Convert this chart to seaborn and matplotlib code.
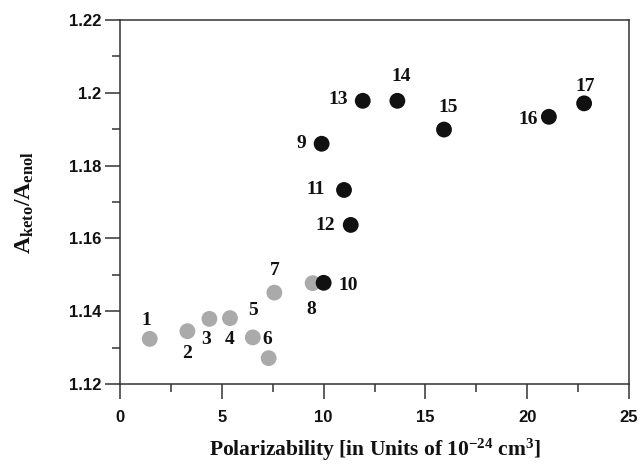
import pandas as pd
import numpy as np
import matplotlib.pyplot as plt
import seaborn as sns
from matplotlib.ticker import MultipleLocator

# Values
labels = [str(i) for i in range(1, 18)]
polarizability = [1.46, 3.31, 4.39, 5.40, 6.52, 7.30, 7.58, 9.46,
                  9.90, 10.0, 11.0, 11.33, 11.92, 13.62, 15.91, 21.06, 22.79]
ratio = [1.1324, 1.1345, 1.1379, 1.1381, 1.1328, 1.1271, 1.1451, 1.1477,
         1.1860, 1.1478, 1.1733, 1.1637, 1.1978, 1.1978, 1.1899, 1.1934, 1.1971]
group = ["low"] * 8 + ["high"] * 9

x_ticks = [0, 5, 10, 15, 20, 25]
x_ticklabels = ["0", "5", "10", "15", "20", "25"]
y_ticks = [1.12, 1.14, 1.16, 1.18, 1.20, 1.22]
y_ticklabels = ["1.12", "1.14", "1.16", "1.18", "1.2", "1.22"]

# label offsets in pixels (dx, dy), upward positive
label_offsets = {
    "1": (-3, 18), "2": (0, -22), "3": (-3, -21), "4": (0, -21), "5": (0, 27),
    "6": (-1, 19), "7": (0, 22), "8": (-1, -26), "9": (-20, 0), "10": (25, -3),
    "11": (-28, 0), "12": (-25, -1), "13": (-25, 1), "14": (4, 24), "15": (4, 22),
    "16": (-21, -3), "17": (1, 17),
}

df = pd.DataFrame({"label": labels, "x": polarizability, "y": ratio, "group": group})

sns.set_style("ticks")
plt.rcParams["mathtext.fontset"] = "custom"
plt.rcParams["mathtext.rm"] = "Liberation Serif"
plt.rcParams["mathtext.bf"] = "Liberation Serif:bold"
plt.rcParams["mathtext.it"] = "Liberation Serif:italic"

fig = plt.figure(figsize=(6.4, 4.65), dpi=100)
ax = fig.add_axes([0.1875, 0.1742, 0.7955, 0.7828])

sns.scatterplot(data=df, x="x", y="y", hue="group", palette={"low": "#aaaaaa", "high": "#111111"},
                s=130, edgecolor="none", legend=False, ax=ax)

for lab, x, y in zip(labels, polarizability, ratio):
    dx, dy = label_offsets[lab]
    ax.annotate(lab, (x, y), xytext=(dx * 0.72, dy * 0.72), textcoords="offset points",
                ha="center", va="center", fontsize=14, fontweight="bold",
                family="Liberation Serif", color="#111111")

ax.set_xlim(0, 25)
ax.set_ylim(1.12, 1.22)
ax.set_xticks(x_ticks, x_ticklabels)
ax.set_yticks(y_ticks, y_ticklabels)
ax.xaxis.set_minor_locator(MultipleLocator(2.5))
ax.yaxis.set_minor_locator(MultipleLocator(0.01))

for t in ax.get_xticklabels() + ax.get_yticklabels():
    t.set_family("Liberation Sans")
    t.set_fontweight("bold")
    t.set_fontsize(12)
    t.set_color("#111111")

ax.tick_params(which="major", length=10.5, width=1.1, color="#333333", direction="out")
ax.tick_params(which="minor", length=5.5, width=1.1, color="#333333", direction="out")
ax.tick_params(axis="x", pad=8)
ax.tick_params(axis="y", pad=3)
for sp in ax.spines.values():
    sp.set_visible(True)
    sp.set_linewidth(1.1)
    sp.set_color("#333333")

ax.set_xlabel(r"Polarizability [in Units of 10$^{\mathbf{-24}}$ cm$^{\mathbf{3}}$]",
              family="Liberation Serif", fontweight="bold", fontsize=15.5, labelpad=9,
              color="#111111")
ax.set_ylabel(r"$\mathbf{A_{keto}/A_{enol}}$", fontsize=17, labelpad=24, color="#111111")

fig.savefig("out.png", dpi=100)
